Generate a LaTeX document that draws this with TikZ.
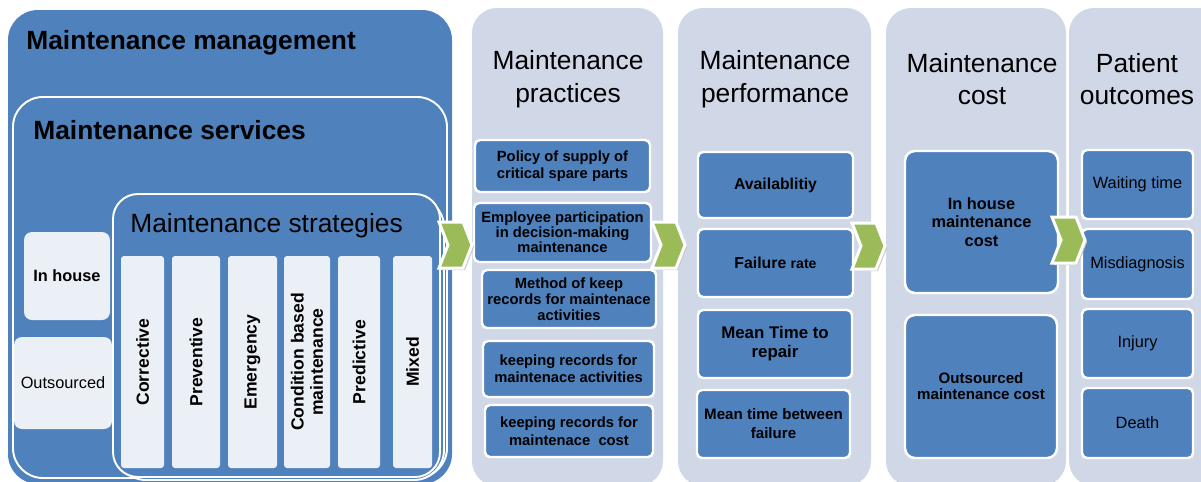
\documentclass[tikz,border=0pt]{standalone}
\usepackage{fontspec}
\setmainfont{Liberation Sans}
\usetikzlibrary{fit}
\definecolor{dblue}{HTML}{4F81BD}
\definecolor{colbg}{HTML}{D0D8E8}
\definecolor{lbox}{HTML}{EBF0F7}
\definecolor{cgreen}{HTML}{9BBB59}
\begin{document}
\begin{tikzpicture}[x=0.02cm,y=-0.02cm,
  region/.style={fill=dblue, inner sep=0pt, rounded corners=0.6cm},
  framed/.style={region, draw=white, line width=1.1pt},
  column/.style={fill=colbg, inner sep=0pt, rounded corners=0.5cm},
  coltitle/.style={font=\fontsize{15}{18.5}\selectfont, align=center, inner sep=0pt},
  bigtitle/.style={font=\fontsize{15}{18}\selectfont\bfseries, anchor=west, inner sep=0pt},
  lightbox/.style={fill=lbox, inner sep=0pt, rounded corners=0.16cm},
  lbar/.style={fill=lbox, inner sep=0pt, rounded corners=0.06cm},
  barlabel/.style={rotate=90, font=\fontsize{10}{11}\selectfont\bfseries, align=center, inner sep=0pt},
  dbox/.style={fill=dblue, draw=white, line width=1.4pt, inner sep=0pt, rounded corners=0.1cm},
  lbl/.style={align=center, inner sep=0pt},
  smalltext/.style={lbl, font=\fontsize{8.4}{#1}\selectfont\bfseries},
  chev/.pic={
    \fill[black!22] (2,2) -- (26,2) -- (35,25) -- (26,48) -- (2,48) -- (11,25) -- cycle;
    \draw[white, line width=1.7pt, fill=cgreen, line join=miter]
      (0,0) -- (24,0) -- (33,23) -- (24,46) -- (0,46) -- (9,23) -- cycle;
  }]
\useasboundingbox (0,0) rectangle (1201,481);
\clip (0,0) rectangle (1201,481);

% ---------- left block ----------
\node[region, fit={(8,10) (452,484)}] (mgmt) {};
\node[bigtitle] (mgmtT) at (26,43) {Maintenance management};
\node[framed, fit={(13,97) (447,478)}] (serv) {};
\node[bigtitle] (servT) at (33,130) {Maintenance services};
\node[framed, fit={(116,197) (444,480)}] (strat2) {};
\node[framed, fit={(113,194) (440,477)}, rounded corners=0.5cm] (strat) {};
\node[bigtitle, font=\fontsize{15}{18}\selectfont] (stratT) at (130,226) {Maintenance strategies};

\node[lightbox, fit={(24,232) (110,320)}] (inh) {};
\node[lbl, font=\fontsize{9.3}{11}\selectfont\bfseries] (inhT) at (inh) {In house};
\node[lightbox, fit={(14,337) (112,429)}] (outs) {};
\node[lbl, font=\fontsize{9.3}{11}\selectfont] (outsT) at (outs) {Outsourced};

\node[lbar, fit={(121,256) (164,468)}] (b1) {};
\node[lbar, fit={(172,256) (220,468)}] (b2) {};
\node[lbar, fit={(228,256) (277,468)}] (b3) {};
\node[lbar, fit={(284,256) (330,468)}] (b4) {};
\node[lbar, fit={(338,256) (380,468)}] (b5) {};
\node[lbar, fit={(393,256) (432,468)}] (b6) {};
\node[barlabel] (b1t) at (b1) {Corrective};
\node[barlabel] (b2t) at (b2) {Preventive};
\node[barlabel] (b3t) at (b3) {Emergency};
\node[barlabel] (b4t) at (b4) {Condition based\\maintenance};
\node[barlabel] (b5t) at (b5) {Predictive};
\node[barlabel] (b6t) at (b6) {Mixed};

% ---------- columns ----------
\node[column, fit={(472,8) (663,486)}] (c1) {};
\node[column, fit={(678,8) (871,486)}] (c2) {};
\node[column, fit={(886,8) (1066,486)}] (c3) {};
\node[column, fit={(1069,8) (1240,486)}] (c4) {};

\node[coltitle] (c1t) at (568,79) {Maintenance\\practices};
\node[coltitle] (c2t) at (775,79) {Maintenance\\performance};
\node[coltitle] (c3t) at (982,79) {Maintenance\\cost};
\node[coltitle] (c4t) at (1137,79) {Patient\\outcomes};

% practices
\node[dbox, fit={(475,140) (650,192)}] (p1) {};
\node[dbox, fit={(474,203) (651,262)}] (p2) {};
\node[dbox, fit={(482,270) (656,328)}] (p3) {};
\node[dbox, fit={(483,341) (654,397)}] (p4) {};
\node[dbox, fit={(485,405) (653,457)}] (p5) {};
\node[smalltext=10] (p1t) at (p1) {Policy of supply of\\critical spare parts};
\node[smalltext=8.6] (p2t) at (p2) {Employee participation\\in decision-making\\maintenance};
\node[smalltext=9.1] (p3t) at (p3) {Method of keep\\records for maintenace\\activities};
\node[smalltext=9.8] (p4t) at (p4) {keeping records for\\maintenace activities};
\node[smalltext=10] (p5t) at (p5) {keeping records for\\maintenace\ \ cost};

% performance
\node[dbox, fit={(698,152) (853,218)}] (q1) {};
\node[dbox, fit={(698,229) (853,297)}] (q2) {};
\node[dbox, fit={(698,310) (852,378)}] (q3) {};
\node[dbox, fit={(697,390) (850,458)}] (q4) {};
\node[lbl, font=\fontsize{9}{11}\selectfont\bfseries] (q1t) at (q1) {Availablitiy};
\node[lbl, font=\fontsize{9}{11}\selectfont\bfseries] (q2t) at (q2) {Failure {\fontsize{8}{10}\selectfont rate}};
\node[lbl, font=\fontsize{9.6}{10.8}\selectfont\bfseries] (q3t) at (q3) {Mean Time to\\repair};
\node[lbl, font=\fontsize{8.6}{10.8}\selectfont\bfseries] (q4t) at (q4) {Mean time between\\failure};

% cost
\node[dbox, fit={(905,151) (1058,293)}, rounded corners=0.2cm] (r1) {};
\node[dbox, fit={(905,315) (1057,458)}, rounded corners=0.2cm] (r2) {};
\node[lbl, font=\fontsize{9.3}{10.5}\selectfont\bfseries] (r1t) at (r1) {In house\\maintenance\\cost};
\node[lbl, font=\fontsize{8.6}{9.2}\selectfont\bfseries] (r2t) at (r2) {Outsourced\\maintenance cost};

% outcomes
\node[dbox, fit={(1082,150) (1193,219)}] (s1) {};
\node[dbox, fit={(1082,229) (1193,299)}] (s2) {};
\node[dbox, fit={(1082,309) (1193,378)}] (s3) {};
\node[dbox, fit={(1082,388) (1193,458)}] (s4) {};
\node[lbl, font=\fontsize{9.3}{11}\selectfont] (s1t) at (s1) {Waiting time};
\node[lbl, font=\fontsize{9.3}{11}\selectfont] (s2t) at (s2) {Misdiagnosis};
\node[lbl, font=\fontsize{9.3}{11}\selectfont] (s3t) at (s3) {Injury};
\node[lbl, font=\fontsize{9.3}{11}\selectfont] (s4t) at (s4) {Death};

% ---------- chevrons ----------
\pic (ch1) at (439,222) {chev};
\pic (ch2) at (652,222) {chev};
\pic (ch3) at (852,223) {chev};
\pic (ch4) at (1052,217) {chev};
\end{tikzpicture}
\end{document}
